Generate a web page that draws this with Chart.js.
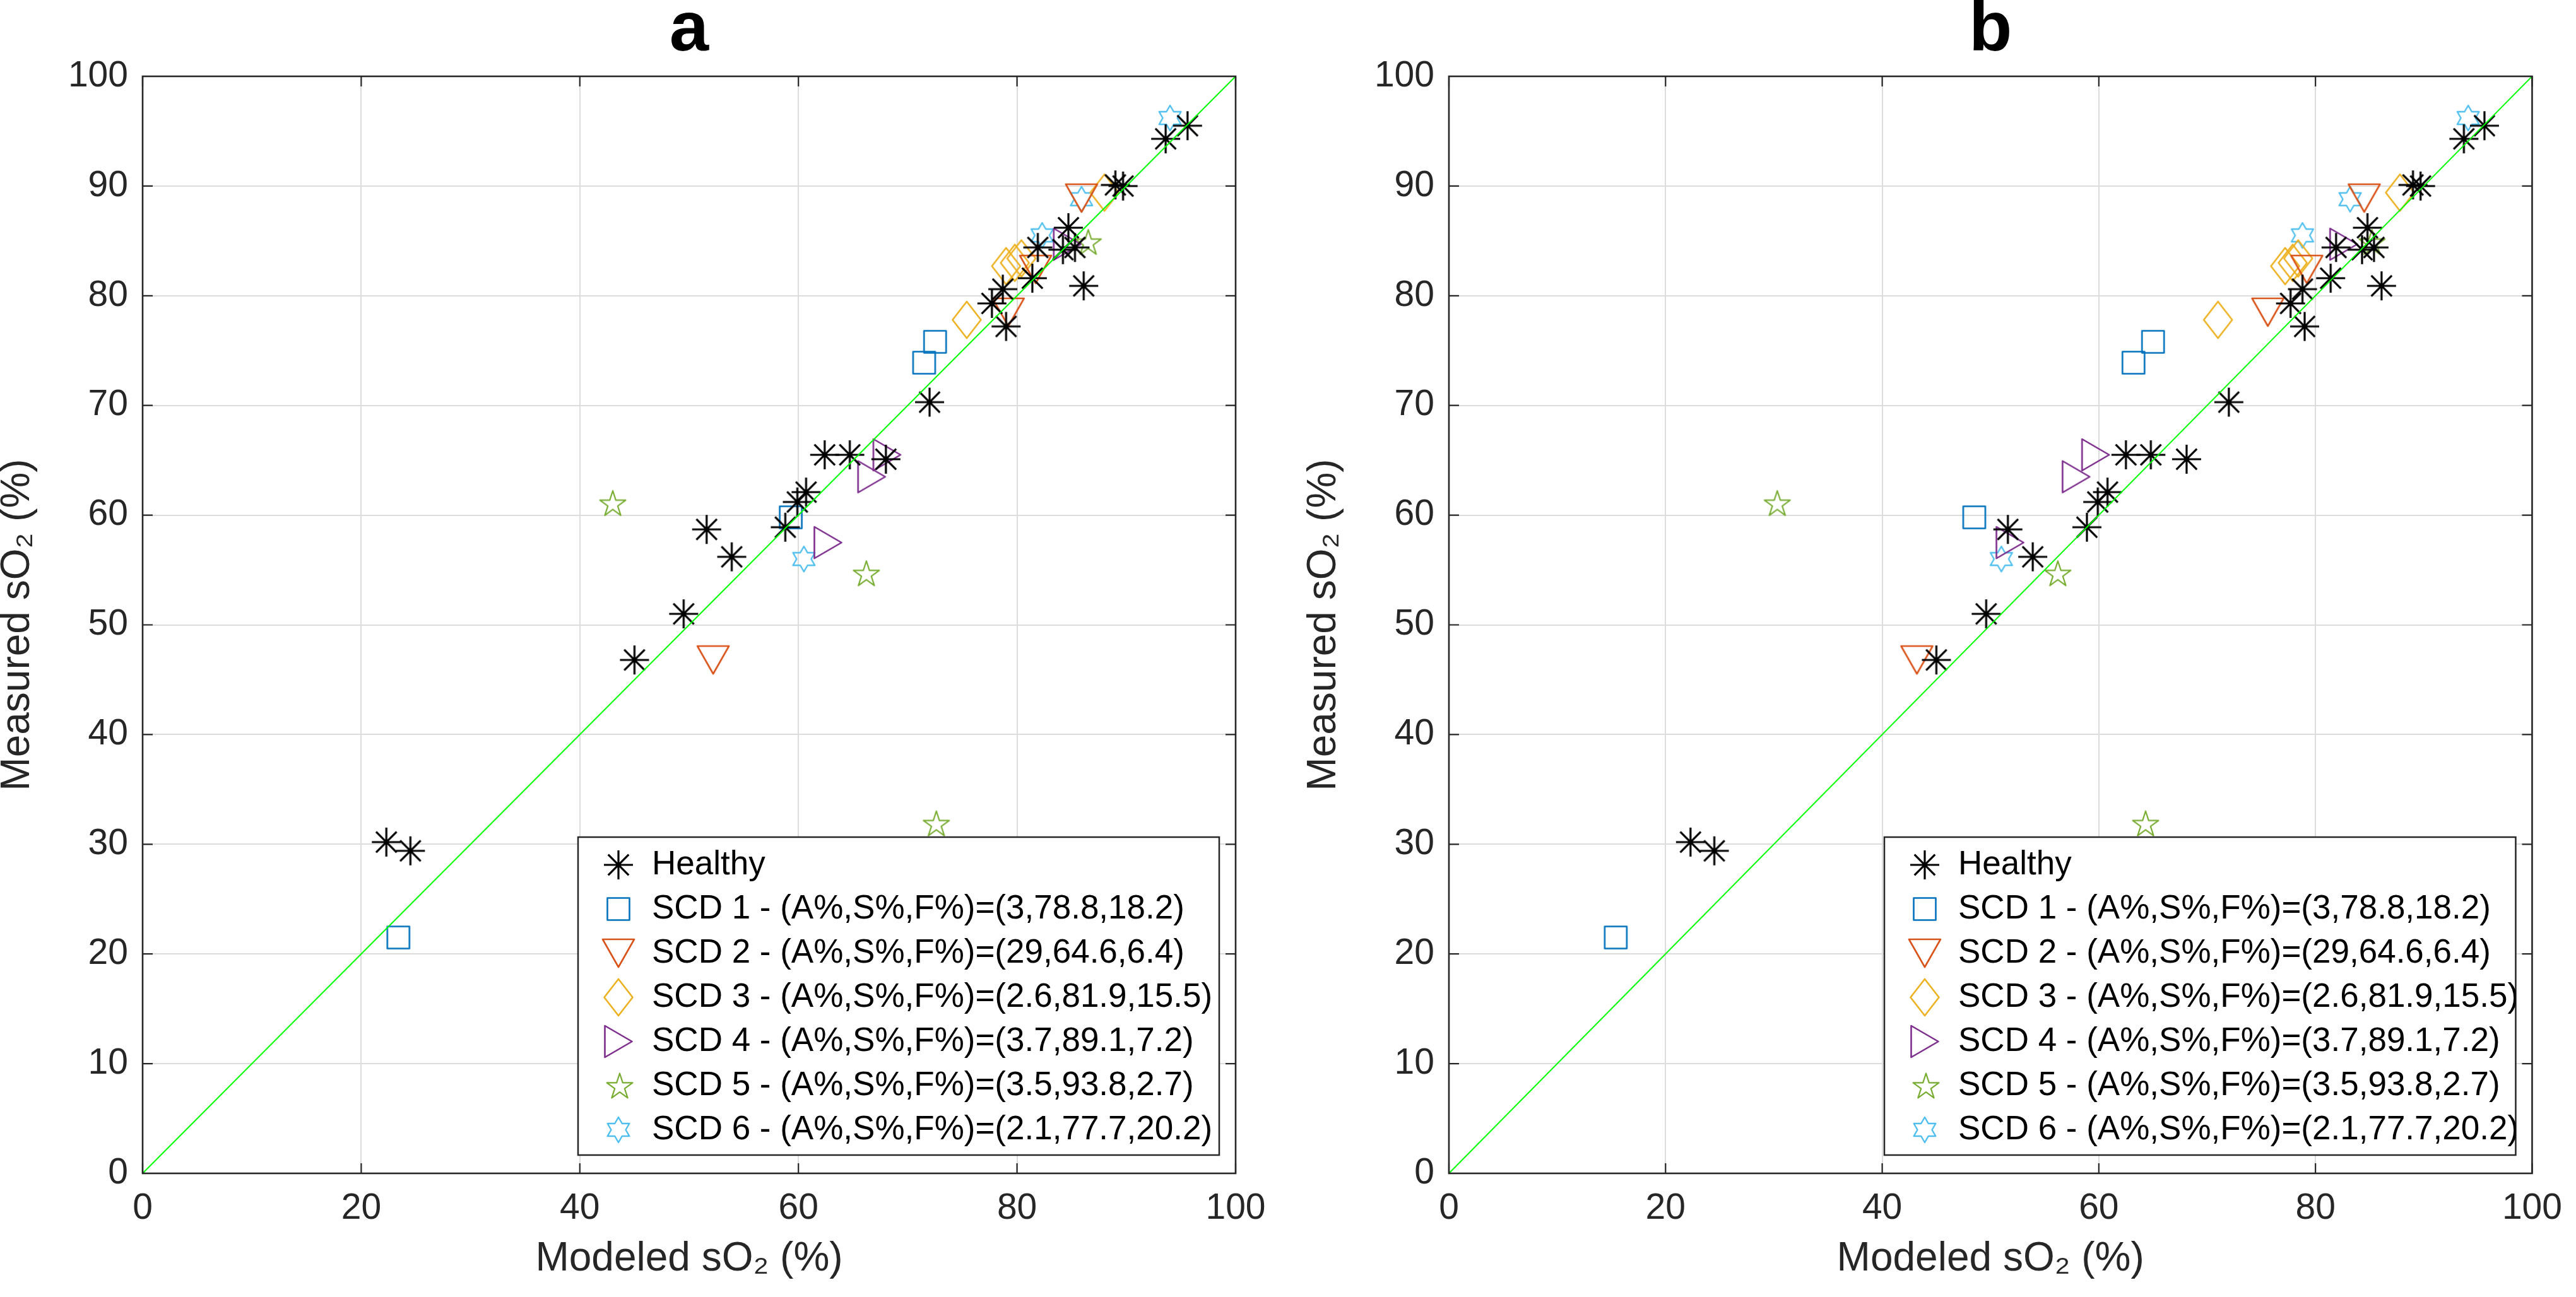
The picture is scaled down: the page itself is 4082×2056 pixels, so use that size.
<!DOCTYPE html>
<html>
<head>
<meta charset="utf-8">
<script src="https://cdn.jsdelivr.net/npm/chart.js@4.4.1/dist/chart.umd.min.js"></script>
<style>
  html, body { margin: 0; padding: 0; background: #fff; }
  body { width: 4082px; height: 2056px; position: relative; overflow: hidden; }
  canvas { position: absolute; top: 0; }
  #chartA { left: 0; }
  #chartB { left: 2070px; }
</style>
</head>
<body>
<canvas id="chartA" width="2040" height="2056"></canvas>
<canvas id="chartB" width="2012" height="2056"></canvas>
<script>
// ---- data ----
const seriesNames = [
  'Healthy',
  'SCD 1 - (A%,S%,F%)=(3,78.8,18.2)',
  'SCD 2 - (A%,S%,F%)=(29,64.6,6.4)',
  'SCD 3 - (A%,S%,F%)=(2.6,81.9,15.5)',
  'SCD 4 - (A%,S%,F%)=(3.7,89.1,7.2)',
  'SCD 5 - (A%,S%,F%)=(3.5,93.8,2.7)',
  'SCD 6 - (A%,S%,F%)=(2.1,77.7,20.2)'
];
const xTicks = [0, 20, 40, 60, 80, 100];
const yTicks = [0, 10, 20, 30, 40, 50, 60, 70, 80, 90, 100];
const identityX = [0, 100];
const identityY = [0, 100];

// measured sO2 (same in both panels)
const healthyMeasured = [95.5, 94.3, 90.1, 90.0, 86.2, 84.4, 84.2, 84.4, 81.6, 80.9, 80.6, 79.3, 77.2, 70.3, 65.5, 65.5, 65.1, 62.1, 61.2, 58.9, 58.7, 56.2, 51.0, 46.8, 30.2, 29.4];
const scd1Measured = [75.8, 73.9, 59.8, 21.5];
const scd2Measured = [88.9, 82.4, 78.5, 46.8];
const scd3Measured = [89.4, 82.7, 83.0, 83.4, 77.8];
const scd4Measured = [84.7, 65.5, 63.5, 57.5];
const scd5Measured = [84.9, 61.1, 54.7, 31.9];
const scd6Measured = [96.2, 88.8, 85.5, 56.0];

// modeled sO2, panel a
const healthyModeledA = [95.6, 93.6, 89.0, 89.7, 84.7, 81.9, 84.2, 85.3, 81.4, 86.1, 78.7, 77.7, 79.0, 72.0, 62.4, 64.7, 68.0, 60.7, 59.9, 58.8, 51.6, 53.9, 49.5, 45.0, 22.3, 24.5];
const scd1ModeledA = [72.5, 71.5, 59.3, 23.4];
const scd2ModeledA = [85.9, 81.7, 79.2, 52.2];
const scd3ModeledA = [88.0, 79.0, 79.8, 80.4, 75.4];
const scd4ModeledA = [84.6, 68.1, 66.7, 62.7];
const scd5ModeledA = [86.4, 42.9, 66.1, 72.5];
const scd6ModeledA = [94.0, 85.9, 82.3, 60.5];

// modeled sO2, panel b
const healthyModeledB = [95.6, 93.7, 89.0, 89.7, 84.8, 81.9, 84.3, 85.4, 81.4, 86.1, 78.8, 77.7, 79.0, 72.0, 62.5, 64.8, 68.1, 60.8, 59.9, 58.9, 51.6, 53.9, 49.6, 45.0, 22.3, 24.5];
const scd1ModeledB = [65.0, 63.2, 48.5, 15.4];
const scd2ModeledB = [84.5, 79.2, 75.6, 43.2];
const scd3ModeledB = [87.8, 77.2, 77.9, 78.4, 71.0];
const scd4ModeledB = [82.6, 59.7, 57.9, 51.8];
const scd5ModeledB = [85.1, 30.2, 56.1, 64.2];
const scd6ModeledB = [94.1, 83.2, 78.8, 51.0];

const measured = [healthyMeasured, scd1Measured, scd2Measured, scd3Measured, scd4Measured, scd5Measured, scd6Measured];
const modeledA = [healthyModeledA, scd1ModeledA, scd2ModeledA, scd3ModeledA, scd4ModeledA, scd5ModeledA, scd6ModeledA];
const modeledB = [healthyModeledB, scd1ModeledB, scd2ModeledB, scd3ModeledB, scd4ModeledB, scd5ModeledB, scd6ModeledB];

// ---- styling ----
const FONT = "'Liberation Sans', Arial, Helvetica, sans-serif";
const TEXT = '#262626';
const seriesColors = ['#000000', '#0072BD', '#D95319', '#EDB120', '#7E2F8E', '#77AC30', '#4DBEEE'];
const seriesMarkers = ['asterisk', 'square', 'triDown', 'diamond', 'triRight', 'pentagram', 'hexagram'];

// matlab-like open markers, drawn once onto small canvases
function starPath(g, m, n, rOut, rIn) {
  for (let i = 0; i < n * 2; i++) {
    const r = i % 2 ? rIn : rOut;
    const a = -Math.PI / 2 + i * Math.PI / n;
    const px = m + r * Math.cos(a), py = m + r * Math.sin(a);
    if (i === 0) g.moveTo(px, py); else g.lineTo(px, py);
  }
  g.closePath();
}
function markerCanvas(kind, color) {
  const S = 64, m = S / 2;
  const c = document.createElement('canvas'); c.width = S; c.height = S;
  const g = c.getContext('2d');
  g.strokeStyle = color; g.lineWidth = 2.6; g.lineJoin = 'round';
  g.beginPath();
  if (kind === 'asterisk') {
    const r = 23, d = r * Math.SQRT1_2;
    g.moveTo(m - r, m); g.lineTo(m + r, m);
    g.moveTo(m, m - r); g.lineTo(m, m + r);
    g.moveTo(m - d, m - d); g.lineTo(m + d, m + d);
    g.moveTo(m - d, m + d); g.lineTo(m + d, m - d);
    g.lineWidth = 3.2;
  } else if (kind === 'square') {
    g.rect(m - 17.5, m - 17.5, 35, 35);
  } else if (kind === 'triDown') {
    g.moveTo(m - 25, m - 22); g.lineTo(m + 25, m - 22); g.lineTo(m, m + 22); g.closePath();
  } else if (kind === 'triRight') {
    g.moveTo(m - 21.5, m - 25); g.lineTo(m + 21.5, m); g.lineTo(m - 21.5, m + 25); g.closePath();
  } else if (kind === 'diamond') {
    g.moveTo(m, m - 29); g.lineTo(m + 22.5, m); g.lineTo(m, m + 29); g.lineTo(m - 22.5, m); g.closePath();
  } else if (kind === 'pentagram') {
    starPath(g, m + 2, 5, 21.5, 21.5 * 0.382); g.lineWidth = 2.2;
  } else if (kind === 'hexagram') {
    starPath(g, m, 6, 20, 20 / Math.sqrt(3)); g.lineWidth = 2.4;
  }
  g.stroke();
  return c;
}
const markerImages = seriesMarkers.map((k, i) => markerCanvas(k, seriesColors[i]));

function pts(xs, ys) { return xs.map((x, i) => ({ x: x, y: ys[i] })); }

// legend box placement relative to the plot area (matches the figure)
function legendBox(ca) {
  return { left: ca.left + 690, top: ca.top + 1206, right: ca.right - 26, bottom: ca.bottom - 29 };
}

const framePlugin = {
  id: 'matlabFrame',
  beforeLayout(chart) {
    const lg = chart.legend;
    if (lg && !lg._onTop) {
      lg._onTop = true;
      lg._layers = () => [{ z: 1, draw: (area) => lg.draw(area) }];
    }
  },
  afterLayout(chart) {
    const lg = chart.legend, box = legendBox(chart.chartArea);
    const fs = 53, pad = 17;
    lg.left = box.left + 64 - fs / 2 - pad;
    lg.top = box.top + 44 - fs / 2 - pad;
    lg.right = box.right; lg.bottom = box.bottom + 60;
    lg.width = lg.right - lg.left; lg.height = lg.bottom - lg.top;
  },
  afterDatasetsDraw(chart) {
    const ctx = chart.ctx, b = legendBox(chart.chartArea);
    ctx.save();
    ctx.fillStyle = '#ffffff';
    ctx.fillRect(b.left, b.top, b.right - b.left, b.bottom - b.top);
    ctx.strokeStyle = '#262626'; ctx.lineWidth = 2.5;
    ctx.strokeRect(b.left, b.top, b.right - b.left, b.bottom - b.top);
    ctx.restore();
  },
  afterDraw(chart) {
    const ctx = chart.ctx, ca = chart.chartArea;
    const xs = chart.scales.x, ys = chart.scales.y, tl = 16;
    ctx.save();
    ctx.strokeStyle = '#262626'; ctx.lineWidth = 2.2;
    ctx.beginPath();
    xs.ticks.forEach(t => {
      const p = xs.getPixelForValue(t.value);
      ctx.moveTo(p, ca.bottom); ctx.lineTo(p, ca.bottom - tl);
      ctx.moveTo(p, ca.top); ctx.lineTo(p, ca.top + tl);
    });
    ys.ticks.forEach(t => {
      const p = ys.getPixelForValue(t.value);
      ctx.moveTo(ca.left, p); ctx.lineTo(ca.left + tl, p);
      ctx.moveTo(ca.right, p); ctx.lineTo(ca.right - tl, p);
    });
    ctx.stroke();
    ctx.lineWidth = 2.6;
    ctx.strokeRect(ca.left, ca.top, ca.right - ca.left, ca.bottom - ca.top);
    ctx.restore();
  }
};

function buildPanel(id, letter, modeled, rightPad) {
  const datasets = [{
    type: 'line', label: '', data: pts(identityX, identityY),
    borderColor: '#00ff00', borderWidth: 2, pointRadius: 0, fill: false, order: 0
  }];
  measured.forEach((ys, k) => {
    datasets.push({
      label: seriesNames[k], data: pts(modeled[k], ys),
      pointStyle: markerImages[k], pointRadius: 22, pointHoverRadius: 22,
      borderColor: seriesColors[k], backgroundColor: 'rgba(0,0,0,0)', showLine: false, order: k + 1
    });
  });
  return new Chart(document.getElementById(id), {
    type: 'scatter',
    data: { datasets },
    options: {
      responsive: false, animation: false, events: [],
      layout: { padding: { left: 0, right: rightPad, top: 0, bottom: 0 } },
      plugins: {
        title: {
          display: true, text: letter, fullSize: false, color: '#000',
          font: { family: FONT, size: 112, weight: 'bold', lineHeight: 0.76 },
          padding: { top: 7, bottom: 121 - 7 - 112 * 0.76 }
        },
        legend: {
          display: true, position: 'chartArea', align: 'start',
          labels: {
            usePointStyle: true, boxWidth: 53, boxHeight: 53, padding: 17, color: '#000',
            font: { family: FONT, size: 53 },
            filter: (item) => item.datasetIndex !== 0
          }
        },
        tooltip: { enabled: false }
      },
      scales: {
        x: {
          type: 'linear', min: 0, max: 100,
          afterBuildTicks: (s) => { s.ticks = xTicks.map(v => ({ value: v })); },
          afterFit: (s) => { s.height = 196; },
          grid: { color: '#dcdcdc', lineWidth: 2, drawTicks: false },
          border: { display: false },
          ticks: { color: TEXT, padding: 22, font: { family: FONT, size: 57 }, maxRotation: 0 },
          title: {
            display: true, text: 'Modeled sO\u2082 (%)', color: TEXT,
            font: { family: FONT, size: 64, lineHeight: 0.9 }, padding: { top: 0, bottom: 31 }
          }
        },
        y: {
          type: 'linear', min: 0, max: 100,
          afterBuildTicks: (s) => { s.ticks = yTicks.map(v => ({ value: v })); },
          afterFit: (s) => { s.width = 226; },
          grid: { color: '#dcdcdc', lineWidth: 2, drawTicks: false },
          border: { display: false },
          ticks: { color: TEXT, padding: 23, font: { family: FONT, size: 57 } },
          title: {
            display: true, text: 'Measured sO\u2082 (%)', color: TEXT,
            font: { family: FONT, size: 64, lineHeight: 0.9 }, padding: { top: 0, bottom: 0 }
          }
        }
      }
    },
    plugins: [framePlugin]
  });
}

buildPanel('chartA', 'a', modeledA, 82);
buildPanel('chartB', 'b', modeledB, 54);
</script>
</body>
</html>
